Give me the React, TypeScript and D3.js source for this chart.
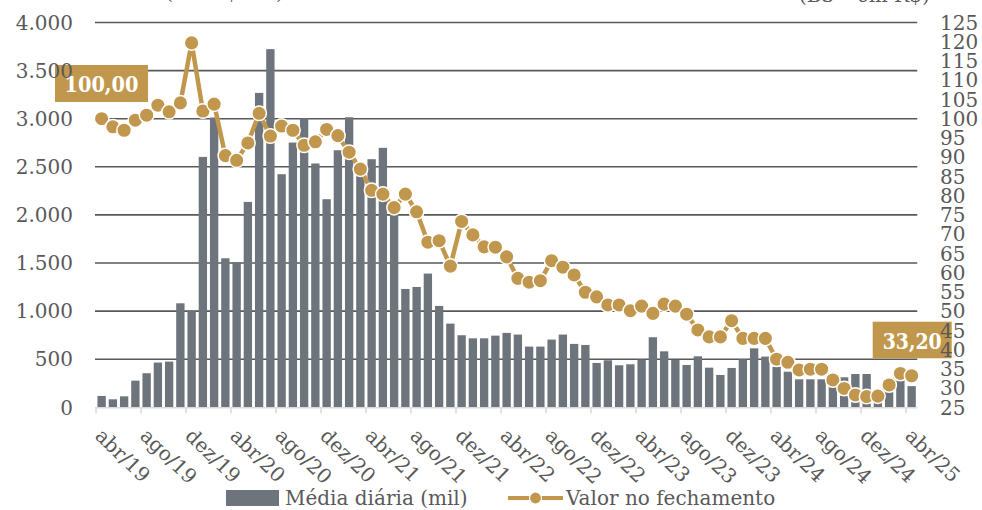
import React from "react";
import * as d3 from "d3";

const months = ["jan", "fev", "mar", "abr", "mai", "jun", "jul", "ago", "set", "out", "nov", "dez"];
const firstYear = 19;
const firstMonthIndex = 3; // abr/19
const nMonths = 73; // abr/19 .. abr/25
const categories: string[] = Array.from({ length: nMonths }, (_, i) => {
  const m = firstMonthIndex + i;
  return `${months[m % 12]}/${firstYear + Math.floor(m / 12)}`;
});

const tickLabels = [
  "abr/19", "ago/19", "dez/19", "abr/20", "ago/20", "dez/20", "abr/21", "ago/21", "dez/21",
  "abr/22", "ago/22", "dez/22", "abr/23", "ago/23", "dez/23", "abr/24", "ago/24", "dez/24", "abr/25",
];

// Média diária (mil)
const dailyAvg = [
  118, 83, 114, 277, 354, 465, 475, 1081, 1005, 2603, 3012, 1549, 1508, 2135, 3268, 3723,
  2423, 2752, 3005, 2534, 2163, 2672, 3015, 2450, 2579, 2697, 2000, 1230, 1251, 1390, 1054,
  870, 749, 717, 717, 745, 773, 756, 631, 631, 704, 756, 659, 648, 461, 489, 437, 447, 496,
  728, 582, 492, 440, 530, 412, 336, 409, 499, 613, 527, 422, 370, 291, 291, 291, 280, 312,
  346, 346, 150, 200, 280, 220,
];

// Valor no fechamento
const closeValue = [
  100.0, 97.9, 97.0, 99.6, 100.9, 103.5, 101.8, 104.1, 119.7, 102.0, 103.8, 90.4, 89.2, 93.7,
  101.4, 95.5, 98.1, 97.0, 93.1, 94.0, 97.2, 95.6, 91.3, 86.9, 81.4, 80.4, 76.9, 80.4, 75.8,
  67.9, 68.3, 61.7, 73.3, 69.8, 66.7, 66.6, 64.1, 58.5, 57.5, 57.9, 63.1, 61.4, 59.4, 54.9,
  53.7, 51.6, 51.6, 50.1, 51.3, 49.4, 51.8, 51.3, 49.2, 45.1, 43.3, 43.3, 47.5, 42.9, 42.9,
  42.9, 37.5, 36.7, 34.7, 34.9, 34.9, 32.1, 29.9, 28.2, 27.8, 27.9, 30.8, 33.8, 33.2,
];

const leftTicks = [0, 500, 1000, 1500, 2000, 2500, 3000, 3500, 4000];
const rightTicks = [25, 30, 35, 40, 45, 50, 55, 60, 65, 70, 75, 80, 85, 90, 95, 100, 105, 110, 115, 120, 125];

const firstLabel = "100,00";
const lastLabel = "33,20";
const legendBars = "Média diária (mil)";
const legendLine = "Valor no fechamento";

const W = 982;
const H = 510;
const GOLD = "#C1974D";
const BAR = "#6D747B";
const GRID = "#595959";
const TXT = "#595959";
const FONT = "'DejaVu Serif', serif";

export default function App() {
  const x0 = 96;
  const x1 = 917.25;
  const yBottom = 407.3;
  const yTop = 22.5;

  const x = d3
    .scaleBand<string>()
    .domain(categories)
    .range([x0, x1])
    .paddingInner(0.26)
    .paddingOuter(0.13);
  const step = x.step();
  const bw = x.bandwidth();
  const cx = (c: string) => (x(c) as number) + bw / 2;
  const edge = (c: string) => (x(c) as number) - step * 0.13;

  const yL = d3.scaleLinear().domain([0, 4000]).range([yBottom, yTop]);
  const yR = d3.scaleLinear().domain([25, 125]).range([yBottom, yTop]);

  const line = d3
    .line<number>()
    .x((_, i) => cx(categories[i]))
    .y((d) => yR(d));

  return (
    <svg
      width={W}
      height={H}
      style={{ position: "absolute", left: 0, top: 0, background: "#fff" }}
      fontFamily={FONT}
    >
      {/* top cut-off captions */}
      <text x={30} y={-1} fontSize={20} fill={TXT}>
        Média diária (em R$ mil)
      </text>
      <text x={799} y={2} fontSize={20} fill={TXT}>
        (B3 – em R$)
      </text>

      {/* gridlines */}
      {leftTicks
        .filter((t) => t > 0)
        .map((t) => (
          <line key={t} x1={95} x2={x1} y1={yL(t)} y2={yL(t)} stroke={GRID} strokeWidth={1.6} />
        ))}

      {/* bars */}
      {dailyAvg.map((v, i) => (
        <rect
          key={i}
          x={x(categories[i])}
          y={yL(v)}
          width={bw}
          height={yBottom - yL(v)}
          fill={BAR}
        />
      ))}

      {/* x axis */}
      <line x1={95} x2={x1} y1={yBottom + 0.5} y2={yBottom + 0.5} stroke="#D9D9D9" strokeWidth={1.5} />
      {tickLabels.map((lab) => {
        const tx = edge(lab);
        return (
          <g key={lab}>
            <line x1={tx} x2={tx} y1={yBottom} y2={yBottom + 6} stroke="#D9D9D9" strokeWidth={1.5} />
            <text
              transform={`translate(${tx - 2},${yBottom + 30}) rotate(44)`}
              fontSize={20}
              fill={TXT}
            >
              {lab}
            </text>
          </g>
        );
      })}

      {/* line */}
      <path d={line(closeValue) || ""} fill="none" stroke={GOLD} strokeWidth={4.5} />
      {closeValue.map((v, i) => (
        <circle key={i} cx={cx(categories[i])} cy={yR(v)} r={7.3} fill={GOLD} stroke="#fff" strokeWidth={1.5} />
      ))}

      {/* data labels */}
      <rect x={55} y={65} width={93} height={37} fill={GOLD} />
      <text
        x={101.5}
        y={84}
        dy="0.36em"
        textAnchor="middle"
        fontSize={23}
        fontWeight="bold"
        fill="#fff"
        textLength={74}
        lengthAdjust="spacingAndGlyphs"
      >
        {firstLabel}
      </text>
      <rect x={872.7} y={321.7} width={79} height={36.6} fill={GOLD} />
      <text
        x={912.2}
        y={340.5}
        dy="0.36em"
        textAnchor="middle"
        fontSize={23}
        fontWeight="bold"
        fill="#fff"
        textLength={59}
        lengthAdjust="spacingAndGlyphs"
      >
        {lastLabel}
      </text>

      {/* left axis labels */}
      {leftTicks.map((t) => (
        <text key={t} x={73} y={yL(t)} dy="0.36em" textAnchor="end" fontSize={20} fill={TXT}>
          {d3.format(",")(t).replace(/,/g, ".")}
        </text>
      ))}

      {/* right axis labels */}
      {rightTicks.map((t) => (
        <text key={t} x={940} y={yR(t)} dy="0.36em" fontSize={20} fill={TXT}>
          {t}
        </text>
      ))}

      {/* legend */}
      <rect x={226} y={490} width={53} height={16} fill={BAR} />
      <text x={285} y={505} fontSize={20} fill={TXT}>
        {legendBars}
      </text>
      <line x1={508} x2={563} y1={498} y2={498} stroke={GOLD} strokeWidth={4} />
      <circle cx={535.5} cy={498} r={6} fill={GOLD} stroke="#fff" strokeWidth={1.2} />
      <text x={566} y={505} fontSize={20} fill={TXT}>
        {legendLine}
      </text>
    </svg>
  );
}
